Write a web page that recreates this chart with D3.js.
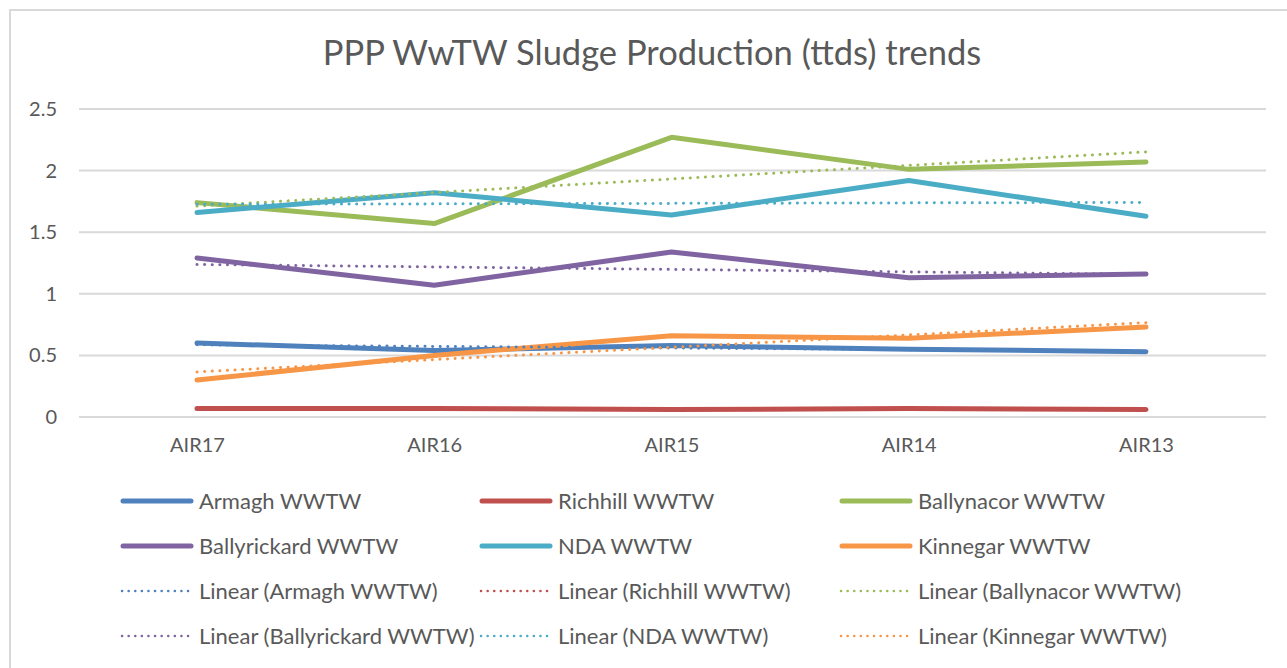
<!DOCTYPE html>
<meta charset="utf-8">
<head>
  <title>PPP WwTW Sludge Production trends</title>
</head>

<style>
body {
  margin: 0;
  background: #fff;
  font-family: Lato, "Open Sans", sans-serif;
}
</style>

<body>
  <div id="content"></div>

  <script src="https://cdnjs.cloudflare.com/ajax/libs/d3/7.8.5/d3.min.js"></script>

  <script>
// Data
var categories = ['AIR17', 'AIR16', 'AIR15', 'AIR14', 'AIR13'];
var seriesNames = ['Armagh WWTW', 'Richhill WWTW', 'Ballynacor WWTW', 'Ballyrickard WWTW', 'NDA WWTW', 'Kinnegar WWTW'];
var armagh = [0.60, 0.54, 0.58, 0.55, 0.53];
var richhill = [0.07, 0.07, 0.06, 0.07, 0.06];
var ballynacor = [1.74, 1.57, 2.27, 2.01, 2.07];
var ballyrickard = [1.29, 1.07, 1.34, 1.13, 1.16];
var nda = [1.66, 1.82, 1.64, 1.92, 1.63];
var kinnegar = [0.30, 0.50, 0.66, 0.64, 0.73];
var yTicks = [0, 0.5, 1, 1.5, 2, 2.5];
var colors = ['#4F81BD', '#C0504D', '#9BBB59', '#8064A2', '#4BACC6', '#F79646'];

var series = [armagh, richhill, ballynacor, ballyrickard, nda, kinnegar];

var width = 1287, height = 668;
var svg = d3.select('#content').append('svg')
  .attr('width', width)
  .attr('height', height);

// chart frame
svg.append('rect')
  .attr('x', 10).attr('y', 10)
  .attr('width', 1290).attr('height', 680)
  .attr('fill', '#fff')
  .attr('stroke', '#d9d9d9')
  .attr('stroke-width', 2);

// Title
svg.append('text')
  .attr('x', 652).attr('y', 65)
  .attr('text-anchor', 'middle')
  .attr('font-size', 34.5)
  .attr('fill', '#595959')
  .text('PPP WwTW Sludge Production (ttds) trends');

var x = d3.scalePoint()
  .domain(categories)
  .range([197, 1146]);

var y = d3.scaleLinear()
  .domain([0, 2.5])
  .range([417, 109]);

// gridlines
svg.append('g')
  .selectAll('line')
  .data(yTicks)
  .enter().append('line')
  .attr('x1', 79).attr('x2', 1266)
  .attr('y1', function(d) { return y(d); })
  .attr('y2', function(d) { return y(d); })
  .attr('stroke', '#d9d9d9')
  .attr('stroke-width', 2);

// y axis labels
var yAxis = d3.axisLeft(y).tickValues(yTicks).tickSize(0).tickPadding(0)
  .tickFormat(function(d) { return String(d); });
var yg = svg.append('g').attr('transform', 'translate(57,0)').call(yAxis);
yg.select('.domain').remove();
yg.selectAll('text').attr('font-size', 20).attr('fill', '#595959')
  .attr('font-family', 'Lato, sans-serif');

// x axis labels
var xAxis = d3.axisBottom(x).tickSize(0).tickPadding(0);
var xg = svg.append('g').attr('transform', 'translate(0,438)').call(xAxis);
xg.select('.domain').remove();
xg.selectAll('text').attr('font-size', 20).attr('fill', '#595959')
  .attr('font-family', 'Lato, sans-serif');

var line = d3.line()
  .x(function(d, i) { return x(categories[i]); })
  .y(function(d) { return y(d); });

// Linear trend (least squares, as the spreadsheet does)
function trend(vals) {
  var n = vals.length;
  var mx = (n + 1) / 2, my = d3.mean(vals);
  var sxy = 0, sxx = 0;
  vals.forEach(function(v, i) {
    sxy += (i + 1 - mx) * (v - my);
    sxx += (i + 1 - mx) * (i + 1 - mx);
  });
  var b = sxy / sxx, a = my - b * mx;
  return vals.map(function(v, i) { return a + b * (i + 1); });
}

// solid series
series.forEach(function(vals, k) {
  svg.append('path')
    .datum(vals)
    .attr('d', line)
    .attr('fill', 'none')
    .attr('stroke', colors[k])
    .attr('stroke-width', 5)
    .attr('stroke-linecap', 'round')
    .attr('stroke-linejoin', 'round');
});

// trend lines
series.forEach(function(vals, k) {
  svg.append('path')
    .datum(trend(vals))
    .attr('d', line)
    .attr('fill', 'none')
    .attr('stroke', colors[k])
    .attr('stroke-width', 3)
    .attr('stroke-dasharray', '0.1 7.5')
    .attr('stroke-linecap', 'round');
});

// Legend
var legendItems = [];
seriesNames.forEach(function(s, k) { legendItems.push({name: s, color: colors[k], dotted: false}); });
seriesNames.forEach(function(s, k) { legendItems.push({name: 'Linear (' + s + ')', color: colors[k], dotted: true}); });

var colX = [121, 480, 840];
var rowY = [501, 546, 591, 636];

var leg = svg.append('g').selectAll('g')
  .data(legendItems)
  .enter().append('g')
  .attr('transform', function(d, i) {
    return 'translate(' + colX[i % 3] + ',' + rowY[Math.floor(i / 3)] + ')';
  });

leg.append('line')
  .attr('x1', function(d) { return d.dotted ? 1 : 2; })
  .attr('x2', 70)
  .attr('y1', 0).attr('y2', 0)
  .attr('stroke', function(d) { return d.color; })
  .attr('stroke-width', function(d) { return d.dotted ? 2.5 : 5; })
  .attr('stroke-dasharray', function(d) { return d.dotted ? '0.1 6.5' : null; })
  .attr('stroke-linecap', 'round');

leg.append('text')
  .attr('x', 78)
  .attr('y', 0)
  .attr('dy', '0.35em')
  .attr('font-size', 22)
  .attr('fill', '#595959')
  .text(function(d) { return d.name; });
  </script>
</body>
</html>
